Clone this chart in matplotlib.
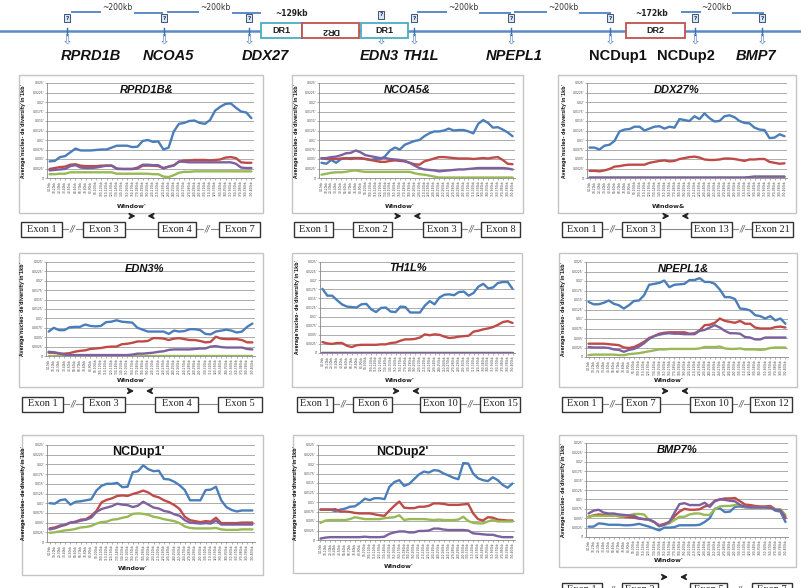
import numpy as np
import matplotlib.pyplot as plt
from matplotlib.patches import Rectangle

W, H = 801, 588

BLUE = '#4a7ebb'
RED = '#be4b48'
PURPLE = '#7d60a0'
GREEN = '#98b954'
MAPBLUE = '#5b8ac6'

# values were read in grid steps; one grid step = 0.0025
STEP = 0.0025

# ---- gene map ----
genes = ['RPRD1B', 'NCOA5', 'DDX27', 'EDN3', 'TH1L', 'NPEPL1', 'NCDup1', 'NCDup2', 'BMP7']
gene_x = [67, 164, 249, 381, 414, 511, 610, 695, 762]
label_x = [91, 168, 265, 379, 421, 514, 618, 686, 756]
gene_italic = [True, True, True, True, True, True, False, False, True]

# ---- nucleotide diversity per window (grid units) ----
rprd1b_blue = [1.75, 1.8, 2.2, 2.3, 2.7, 3.1, 2.9, 2.9, 2.9, 2.95, 3.0, 3.0, 3.2, 3.4, 3.4, 3.4, 3.25, 3.3, 3.9, 4.0,
               3.8, 3.85, 3.0, 3.2, 4.9, 5.7, 5.8, 6.0, 6.05, 5.8, 5.7, 6.1, 7.1, 7.5, 7.8, 7.85, 7.4, 7.0, 6.9, 6.3]
rprd1b_red = [0.95, 1.05, 1.15, 1.2, 1.4, 1.45, 1.3, 1.25, 1.25, 1.25, 1.3, 1.3, 1.3, 1.0, 0.95, 0.95, 0.95, 1.0, 1.3, 1.3,
              1.3, 1.25, 1.05, 1.2, 1.35, 1.7, 1.85, 1.85, 1.9, 1.9, 1.9, 1.85, 1.9, 1.95, 2.15, 2.2, 2.1, 1.65, 1.6, 1.6]
rprd1b_purple = [0.8, 0.85, 0.9, 0.95, 1.25, 1.35, 1.1, 1.05, 1.05, 1.1, 1.2, 1.3, 1.3, 0.95, 0.95, 0.95, 0.95, 1.1, 1.4, 1.4,
                 1.35, 1.35, 1.0, 1.2, 1.3, 1.75, 1.7, 1.65, 1.65, 1.65, 1.65, 1.65, 1.65, 1.65, 1.65, 1.65, 1.5, 1.1, 1.05, 1.05]
rprd1b_green = [0.4, 0.4, 0.45, 0.45, 0.6, 0.6, 0.6, 0.6, 0.6, 0.6, 0.6, 0.6, 0.6, 0.45, 0.45, 0.45, 0.45, 0.45, 0.45, 0.45,
                0.4, 0.4, 0.15, 0.1, 0.3, 0.55, 0.65, 0.65, 0.7, 0.7, 0.7, 0.7, 0.7, 0.7, 0.7, 0.7, 0.7, 0.7, 0.7, 0.7]

ncoa5_blue = [1.6, 1.5, 1.9, 1.6, 2.0, 2.05, 2.1, 2.1, 2.05, 2.0, 1.9, 2.0, 1.95, 2.3, 2.9, 3.2, 3.0, 3.5, 3.7, 3.9,
              4.0, 4.4, 4.7, 4.9, 4.9, 5.0, 5.2, 5.0, 5.05, 5.05, 4.9, 4.7, 5.7, 6.1, 5.8, 5.3, 5.35, 5.1, 4.8, 4.4]
ncoa5_red = [2.1, 2.0, 2.0, 2.0, 2.05, 2.1, 2.0, 2.1, 2.1, 2.0, 1.9, 1.8, 1.7, 1.7, 1.8, 1.85, 1.8, 1.75, 1.6, 1.45,
             1.4, 1.75, 1.9, 2.05, 2.2, 2.2, 2.15, 2.1, 2.05, 2.05, 2.05, 2.0, 2.05, 2.1, 2.05, 2.15, 2.2, 1.9, 1.5, 1.45]
ncoa5_purple = [2.05, 2.1, 2.2, 2.25, 2.4, 2.6, 2.65, 2.9, 2.7, 2.4, 2.3, 2.2, 2.1, 2.1, 2.0, 1.95, 1.9, 1.8, 1.6, 1.3,
                1.05, 0.9, 0.85, 0.8, 0.7, 0.75, 0.8, 0.85, 0.9, 0.9, 0.95, 1.0, 1.05, 1.05, 1.05, 1.05, 1.05, 1.05, 1.0, 0.9]
ncoa5_green = [0.35, 0.45, 0.55, 0.6, 0.6, 0.65, 0.75, 0.8, 0.7, 0.65, 0.65, 0.65, 0.65, 0.65, 0.65, 0.65, 0.65, 0.65, 0.65, 0.5,
               0.4, 0.35, 0.25, 0.15, 0.05, 0.05, 0.05, 0.05, 0.05, 0.05, 0.05, 0.05, 0.05, 0.05, 0.05, 0.05, 0.05, 0.05, 0.05, 0.05]

ddx27_blue = [3.2, 3.2, 3.0, 3.4, 3.5, 3.9, 4.9, 5.1, 5.15, 5.4, 5.4, 5.0, 5.2, 5.4, 5.45, 5.2, 5.4, 5.3, 6.2, 6.1,
              6.0, 6.5, 6.2, 6.8, 6.3, 5.95, 6.0, 6.5, 6.6, 6.4, 6.0, 5.8, 5.75, 5.3, 5.1, 5.05, 4.2, 4.25, 4.6, 4.4]
ddx27_red = [0.75, 0.75, 0.7, 0.8, 0.95, 1.2, 1.25, 1.35, 1.4, 1.4, 1.4, 1.4, 1.6, 1.7, 1.8, 1.85, 1.75, 1.8, 2.0, 2.1,
             2.2, 2.25, 2.15, 1.95, 1.9, 1.9, 1.95, 2.05, 2.05, 2.0, 1.9, 1.8, 1.95, 1.95, 2.0, 2.0, 1.7, 1.6, 1.5, 1.55]
ddx27_purple = [0.05, 0.05, 0.05, 0.05, 0.05, 0.05, 0.05, 0.05, 0.05, 0.05, 0.05, 0.05, 0.05, 0.05, 0.05, 0.05, 0.05, 0.05, 0.05, 0.05,
                0.05, 0.05, 0.05, 0.05, 0.05, 0.05, 0.05, 0.05, 0.05, 0.05, 0.05, 0.05, 0.1, 0.15, 0.15, 0.15, 0.15, 0.15, 0.15, 0.15]
ddx27_green = [0.02, 0.02, 0.02, 0.02, 0.02, 0.02, 0.02, 0.02, 0.02, 0.02, 0.02, 0.02, 0.02, 0.02, 0.02, 0.02, 0.02, 0.02, 0.02, 0.02,
               0.02, 0.02, 0.02, 0.02, 0.02, 0.02, 0.02, 0.02, 0.02, 0.02, 0.02, 0.02, 0.08, 0.12, 0.12, 0.12, 0.12, 0.12, 0.12, 0.12]

edn3_blue = [2.6, 3.0, 2.75, 2.75, 3.05, 3.1, 3.1, 3.35, 3.2, 3.15, 3.2, 3.6, 3.65, 3.8, 3.65, 3.6, 3.55, 3.0, 2.8, 2.6,
             2.6, 2.6, 2.6, 2.35, 2.7, 2.6, 2.65, 2.85, 2.85, 2.75, 2.35, 2.3, 2.6, 2.7, 2.8, 2.7, 2.5, 2.6, 3.1, 3.45]
edn3_red = [0.35, 0.35, 0.25, 0.25, 0.3, 0.45, 0.55, 0.6, 0.75, 0.8, 0.85, 0.95, 1.0, 1.0, 1.25, 1.3, 1.4, 1.55, 1.55, 1.6,
            1.9, 1.9, 1.85, 1.7, 1.85, 1.9, 1.8, 1.7, 1.7, 1.6, 1.45, 1.5, 2.05, 1.85, 1.8, 1.8, 1.8, 1.7, 1.45, 1.45]
edn3_purple = [0.45, 0.4, 0.3, 0.15, 0.1, 0.1, 0.1, 0.1, 0.1, 0.1, 0.1, 0.1, 0.1, 0.1, 0.1, 0.1, 0.15, 0.25, 0.25, 0.3,
               0.35, 0.45, 0.5, 0.65, 0.7, 0.7, 0.7, 0.7, 0.75, 0.8, 0.8, 1.0, 1.05, 0.95, 0.9, 0.9, 0.9, 0.9, 0.75, 0.7]
edn3_green = [0.03, 0.03, 0.03, 0.03, 0.03, 0.03, 0.03, 0.03, 0.03, 0.03, 0.03, 0.03, 0.03, 0.03, 0.03, 0.03, 0.03, 0.03, 0.03, 0.03,
              0.03, 0.03, 0.03, 0.03, 0.03, 0.03, 0.03, 0.03, 0.03, 0.03, 0.03, 0.03, 0.03, 0.03, 0.03, 0.03, 0.03, 0.03, 0.03, 0.03]

th1l_blue = [7.05, 6.3, 6.3, 5.8, 5.35, 5.1, 5.05, 5.0, 5.35, 5.4, 4.8, 4.5, 4.95, 5.0, 4.55, 4.5, 5.1, 5.05, 4.45, 4.45,
             4.45, 5.2, 5.7, 5.35, 6.1, 6.4, 6.45, 6.35, 6.7, 6.75, 6.3, 6.6, 7.3, 7.6, 7.1, 7.2, 7.7, 7.8, 7.8, 7.05]
th1l_red = [1.2, 1.05, 1.0, 1.1, 1.1, 0.8, 0.65, 0.85, 0.9, 0.9, 0.9, 0.9, 0.95, 0.95, 1.1, 1.15, 1.35, 1.5, 1.5, 1.55,
            1.7, 2.05, 1.95, 2.05, 2.0, 1.8, 1.65, 1.7, 1.8, 1.85, 1.9, 2.35, 2.45, 2.6, 2.7, 2.85, 3.1, 3.4, 3.5, 3.3]
th1l_purple = [0, 0, 0, 0, 0, 0, 0, 0, 0, 0, 0, 0, 0, 0, 0, 0, 0, 0, 0, 0,
               0, 0, 0, 0, 0, 0, 0, 0, 0, 0, 0, 0, 0, 0, 0, 0, 0, 0, 0, 0]
th1l_green = [0, 0, 0, 0, 0, 0, 0, 0, 0, 0, 0, 0, 0, 0, 0, 0, 0, 0, 0, 0,
              0, 0, 0, 0, 0, 0, 0, 0, 0, 0, 0, 0, 0, 0, 0, 0, 0, 0, 0, 0]

npepl1_blue = [5.8, 5.55, 5.55, 5.7, 5.95, 5.6, 5.45, 5.1, 5.45, 5.9, 5.95, 6.5, 7.6, 7.7, 7.8, 8.05, 7.35, 7.6, 7.65, 7.7,
               8.1, 8.1, 8.3, 7.9, 7.9, 7.7, 7.1, 6.3, 6.3, 6.1, 5.1, 5.05, 4.9, 4.4, 4.3, 4.05, 4.3, 3.85, 4.05, 3.5]
npepl1_red = [1.4, 1.4, 1.4, 1.4, 1.35, 1.3, 1.25, 1.0, 0.95, 1.05, 1.3, 1.6, 2.0, 2.2, 2.45, 2.55, 2.6, 2.6, 2.6, 2.6,
              2.45, 2.5, 2.8, 3.35, 3.4, 3.6, 4.05, 3.8, 3.7, 3.6, 3.8, 3.5, 3.5, 3.1, 3.0, 3.0, 3.0, 3.15, 3.2, 3.1]
npepl1_purple = [1.05, 1.0, 1.0, 1.0, 0.95, 0.8, 0.75, 0.55, 0.75, 0.85, 1.1, 1.45, 1.9, 2.2, 2.35, 2.45, 2.5, 2.45, 2.45, 2.4,
                 2.4, 2.4, 2.75, 2.85, 3.1, 3.35, 3.1, 2.75, 2.5, 2.5, 2.45, 2.1, 2.05, 1.85, 1.85, 2.05, 2.05, 2.05, 2.05, 2.05]
npepl1_green = [0.2, 0.25, 0.25, 0.25, 0.25, 0.25, 0.2, 0.2, 0.3, 0.35, 0.4, 0.5, 0.6, 0.7, 0.8, 0.8, 0.85, 0.85, 0.85, 0.85,
                0.85, 0.85, 0.9, 1.05, 1.05, 1.05, 1.1, 0.9, 0.85, 0.85, 0.9, 0.8, 0.8, 0.8, 0.75, 0.8, 0.95, 1.0, 1.0, 1.0]

ncdup1_blue = [4.0, 3.95, 4.3, 4.4, 3.85, 4.15, 4.2, 4.3, 4.4, 5.3, 5.8, 6.0, 6.0, 6.1, 5.65, 5.7, 7.2, 7.3, 7.9, 7.5,
               7.3, 7.35, 6.5, 6.45, 6.2, 5.85, 5.35, 4.3, 4.3, 4.3, 5.35, 5.4, 5.7, 4.3, 3.6, 3.3, 3.15, 3.25, 3.25, 3.25]
ncdup1_red = [1.4, 1.5, 1.7, 1.75, 2.0, 2.1, 2.3, 2.35, 2.7, 3.2, 4.1, 4.35, 4.5, 4.75, 4.8, 4.75, 4.95, 5.1, 5.3, 5.1,
              4.75, 4.6, 4.3, 4.1, 3.8, 3.4, 2.6, 2.25, 2.15, 2.05, 2.15, 2.1, 2.5, 1.95, 1.95, 1.95, 1.95, 2.0, 2.0, 2.0]
ncdup1_purple = [1.3, 1.4, 1.6, 1.8, 2.0, 2.05, 2.2, 2.3, 2.5, 3.1, 3.4, 3.55, 3.7, 3.95, 3.85, 3.8, 3.6, 3.75, 4.15, 3.85,
                 3.55, 3.45, 3.2, 3.1, 2.85, 2.7, 2.25, 2.0, 1.95, 1.9, 1.95, 1.9, 2.2, 1.8, 1.8, 1.8, 1.8, 1.8, 1.8, 1.8]
ncdup1_green = [0.95, 1.0, 1.1, 1.2, 1.25, 1.35, 1.5, 1.55, 1.65, 1.9, 2.05, 2.1, 2.3, 2.35, 2.5, 2.6, 2.9, 2.95, 2.9, 2.8,
                2.6, 2.5, 2.35, 2.25, 2.15, 1.95, 1.6, 1.45, 1.4, 1.4, 1.4, 1.4, 1.45, 1.3, 1.25, 1.25, 1.25, 1.3, 1.3, 1.3]

ncdup2_blue = [3.2, 3.2, 3.2, 3.05, 3.2, 3.3, 3.5, 3.55, 3.9, 4.35, 4.2, 4.4, 4.4, 4.3, 5.6, 6.1, 6.3, 5.7, 5.9, 6.4,
               6.9, 7.2, 7.1, 7.35, 7.3, 7.0, 6.8, 6.55, 6.4, 8.1, 8.05, 7.0, 6.5, 6.3, 6.2, 6.6, 6.3, 5.8, 5.5, 5.95]
ncdup2_red = [3.2, 3.2, 3.2, 3.25, 3.0, 3.0, 2.95, 2.85, 2.8, 2.8, 2.8, 2.7, 2.6, 2.55, 3.1, 3.6, 4.05, 3.4, 3.35, 3.35,
              3.5, 3.5, 3.6, 3.85, 3.85, 3.8, 3.7, 3.7, 3.7, 3.75, 3.8, 2.8, 2.2, 2.05, 2.4, 2.35, 2.15, 2.1, 2.05, 2.05]
ncdup2_purple = [0.15, 0.25, 0.3, 0.3, 0.3, 0.3, 0.3, 0.3, 0.3, 0.35, 0.3, 0.3, 0.3, 0.35, 0.65, 0.8, 0.9, 0.9, 0.8, 0.8,
                 0.95, 0.95, 1.0, 1.2, 1.2, 1.1, 1.05, 1.05, 1.05, 1.05, 1.0, 0.7, 0.65, 0.6, 0.55, 0.55, 0.4, 0.3, 0.3, 0.3]
ncdup2_green = [1.8, 2.05, 2.1, 2.1, 2.1, 2.1, 2.2, 2.4, 2.3, 2.2, 2.2, 2.2, 2.2, 2.3, 2.35, 2.4, 2.6, 2.1, 2.2, 2.2,
                2.2, 2.2, 2.15, 2.1, 2.15, 2.1, 2.1, 2.1, 2.15, 2.45, 2.0, 1.8, 1.75, 1.75, 1.95, 2.1, 1.95, 1.95, 1.95, 1.95]

bmp7_blue = [1.1, 1.1, 1.45, 1.4, 1.3, 1.3, 1.3, 1.25, 1.25, 1.3, 1.4, 1.25, 1.1, 0.9, 0.7, 1.0, 1.0, 1.05, 1.25, 1.25,
             1.25, 1.25, 1.3, 1.6, 2.0, 3.0, 3.05, 2.65, 2.7, 3.2, 3.25, 3.15, 3.15, 3.15, 3.15, 3.15, 3.15, 2.8, 2.7, 1.6]
bmp7_red = [2.15, 2.3, 2.4, 2.35, 2.3, 2.3, 2.2, 2.15, 2.1, 2.05, 1.95, 1.9, 1.85, 1.6, 1.25, 1.4, 1.6, 2.2, 2.7, 3.0,
            2.9, 2.9, 2.95, 3.25, 3.35, 3.85, 4.0, 4.1, 4.1, 4.15, 3.8, 3.45, 3.4, 3.3, 3.25, 3.25, 3.3, 2.95, 2.9, 2.0]
bmp7_purple = [2.5, 2.8, 2.9, 2.6, 2.5, 2.5, 2.4, 2.35, 2.3, 2.25, 2.0, 1.9, 1.85, 1.6, 1.15, 1.3, 1.6, 2.55, 3.5, 3.6,
               3.4, 3.4, 3.4, 3.65, 3.2, 3.8, 4.0, 3.95, 3.85, 3.8, 3.4, 3.25, 3.15, 3.15, 3.15, 3.15, 3.1, 2.9, 2.85, 2.1]
bmp7_green = [2.15, 2.25, 2.25, 2.25, 2.25, 2.25, 2.25, 2.2, 2.3, 2.45, 2.45, 2.4, 1.8, 1.6, 1.15, 1.3, 1.45, 1.8, 2.15, 2.15,
              2.4, 2.5, 2.5, 2.35, 2.35, 2.95, 3.25, 3.3, 3.3, 3.4, 3.4, 3.2, 3.15, 3.15, 3.15, 3.15, 3.1, 2.95, 2.95, 2.35]

windows = [f"{10 * i}-{10 * i + 10}kb" for i in range(40)]
ytick_vals = [i * STEP for i in range(11)]

# exon diagrams (labels, and which connectors have a // break)
rprd1b_exons = ['Exon 1', 'Exon 3', 'Exon 4', 'Exon 7']
ncoa5_exons = ['Exon 1', 'Exon 2', 'Exon 3', 'Exon 8']
ddx27_exons = ['Exon 1', 'Exon 3', 'Exon 13', 'Exon 21']
edn3_exons = ['Exon 1', 'Exon 3', 'Exon 4', 'Exon 5']
th1l_exons = ['Exon 1', 'Exon 6', 'Exon 10', 'Exon 15']
npepl1_exons = ['Exon 1', 'Exon 7', 'Exon 10', 'Exon 12']
bmp7_exons = ['Exon 1', 'Exon 3', 'Exon 5', 'Exon 7']

YLAB = "Average'nucleo- de'diversity'in'1kb'"

fig = plt.figure(figsize=(W / 100, H / 100), dpi=100)
bg = fig.add_axes([0, 0, 1, 1], zorder=0)
bg.set_xlim(0, W)
bg.set_ylim(H, 0)
bg.axis('off')


def px_axes(x0, y0, x1, y1):
    return fig.add_axes([x0 / W, 1 - y1 / H, (x1 - x0) / W, (y1 - y0) / H], zorder=2)


# ---------------- top gene map ----------------
bg.plot([0, W], [31, 31], color=MAPBLUE, lw=1.8, zorder=1)
for gx in gene_x:
    bg.plot([gx, gx], [27.5, 34.5], color='#3c6eab', lw=1, zorder=2)
    my = 15 if gx == 381 else 18
    bg.text(gx, my, '?', fontsize=4.2, ha='center', va='center', color='#1f3b63', fontweight='bold',
            bbox=dict(boxstyle='square,pad=0.2', fc='#dbe5f1', ec='#1f3b63', lw=0.6))
    bg.text(gx, 41.5, '\u21e9', fontsize=9.5, ha='center', va='center', color=MAPBLUE, family='DejaVu Sans')
for name, lx, it in zip(genes, label_x, gene_italic):
    bg.text(lx, 56, name, fontsize=10.5, ha='center', va='center', family='Liberation Sans',
            fontweight='bold', style='italic' if it else 'normal', color='#111111')

dr_boxes = [(261, 302, 'DR1', '#4bacc6', 0), (302, 359, 'DR2', '#c0504d', 180),
            (361, 408, 'DR1', '#4bacc6', 0), (626, 685, 'DR2', '#c0504d', 0)]
for a, b, lab, col, rot in dr_boxes:
    bg.add_patch(Rectangle((a, 23), b - a, 15, fc='white', ec=col, lw=1.3, zorder=3))
    bg.text((a + b) / 2, 30.5, lab, fontsize=6.5, ha='center', va='center', rotation=rot,
            fontweight='bold', color='#222222', zorder=4, family='Liberation Sans')
bg.text(292, 14, '~129kb', fontsize=5.5, ha='center', va='center', fontweight='bold', color='#222222')
bg.text(652, 14, '~172kb', fontsize=5.5, ha='center', va='center', fontweight='bold', color='#222222')

spans = [(72, 100, 135, 162), (168, 198, 233, 260), (418, 446, 480, 510), (515, 546, 580, 610), (682, 700, 733, 763)]
for a, b, c, d in spans:
    bg.plot([a, b], [12, 12], color=MAPBLUE, lw=1.4)
    bg.plot([c, d], [13, 13], color=MAPBLUE, lw=1.4)
    bg.text((b + c) / 2, 8, '~200kb', fontsize=5.5, ha='center', va='center', color='#333333')


# ---------------- chart panels ----------------
def draw_panel(border, plot, title, series, tx, italic=True, xlabel="Window'"):
    x0, y0, x1, y1 = border
    bg.add_patch(Rectangle((x0, y0), x1 - x0, y1 - y0, fill=False, ec='#c4c4c4', lw=1))
    ax = px_axes(*plot)
    ax.set_facecolor('none')
    n = len(series[0][0])
    for vals, col in series:
        ax.plot(np.arange(len(vals)), np.array(vals) * STEP, color=col, lw=1.7,
                solid_joinstyle='round', solid_capstyle='round')
    ax.set_xlim(-0.5, n - 0.5)
    ax.set_ylim(0, 10 * STEP)
    ax.set_yticks(ytick_vals)
    ax.set_yticklabels([f"{v:g}'" for v in ytick_vals], fontsize=2.2, color='#444444')
    ax.set_xticks(np.arange(n))
    ax.set_xticklabels(windows[:n], rotation=90, fontsize=2.1, color='#444444')
    ax.tick_params(length=1.2, width=0.4, pad=0.8, colors='#777777', labelcolor='#444444')
    ax.grid(axis='y', color='#8c8c8c', lw=0.5)
    ax.set_axisbelow(True)
    for s in ['top', 'right']:
        ax.spines[s].set_visible(False)
    for s in ['left', 'bottom']:
        ax.spines[s].set_color('#868686')
        ax.spines[s].set_linewidth(0.6)
    ax.set_ylabel(YLAB, fontsize=3.3, fontweight='bold', color='#222222')
    ax.yaxis.set_label_coords(-0.1, 0.5)
    ax.text(tx, 0.93, title, transform=ax.transAxes, ha='center', va='center',
            fontsize=8 if italic else 9, fontweight='bold', style='italic' if italic else 'normal',
            family='Liberation Sans', color='#111111')
    px0, px1 = plot[0], plot[2]
    bg.text(px0 + 0.41 * (px1 - px0), y1 - 7, xlabel, fontsize=4.5, fontweight='bold',
            ha='center', va='center', color='#222222')
    return ax


def draw_exons(boxes, labels, breaks, yc, h=15):
    for i in range(3):
        xa, xb = boxes[i][1], boxes[i + 1][0]
        bg.plot([xa, xb], [yc, yc], color='#8a8a8a', lw=0.8, zorder=1)
        if breaks[i]:
            bg.text((xa + xb) / 2, yc, '//', fontsize=6, ha='center', va='center', color='#555555',
                    style='italic', zorder=2, bbox=dict(boxstyle='square,pad=0.05', fc='white', ec='none'))
    for (a, b), lab in zip(boxes, labels):
        bg.add_patch(Rectangle((a, yc - h / 2), b - a, h, fc='white', ec='#333333', lw=1, zorder=3))
        bg.text((a + b) / 2, yc, lab, fontsize=7.5, ha='center', va='center',
                family='Liberation Serif', color='#222222', zorder=4)
    xm = (boxes[1][1] + boxes[2][0]) / 2
    ya = yc - 13
    bg.annotate('', xy=(xm - 3, ya), xytext=(xm - 14, ya),
                arrowprops=dict(arrowstyle='->', lw=1.3, color='#222222', mutation_scale=8))
    bg.annotate('', xy=(xm + 3, ya), xytext=(xm + 14, ya),
                arrowprops=dict(arrowstyle='->', lw=1.3, color='#222222', mutation_scale=8))


def four(b, r, p, g):
    return [(b, BLUE), (r, RED), (g, GREEN), (p, PURPLE)]


# row 1
draw_panel((19, 75, 263, 213), (47, 83, 254, 178), 'RPRD1B&',
           four(rprd1b_blue, rprd1b_red, rprd1b_purple, rprd1b_green), 0.48)
draw_exons([(21, 62), (83, 125), (158, 196), (219, 260)], rprd1b_exons, [True, False, True], 229)

draw_panel((292, 75, 523, 213), (319, 83, 515, 178), 'NCOA5&',
           four(ncoa5_blue, ncoa5_red, ncoa5_purple, ncoa5_green), 0.45)
draw_exons([(294, 333), (353, 392), (423, 461), (481, 520)], ncoa5_exons, [False, False, True], 229)

draw_panel((558, 75, 796, 213), (587, 83, 787, 178), 'DDX27%',
           four(ddx27_blue, ddx27_red, ddx27_purple, ddx27_green), 0.45, xlabel='Window&')
draw_exons([(562, 602), (622, 660), (691, 732), (752, 793)], ddx27_exons, [True, False, True], 229)

# row 2
draw_panel((19, 253, 263, 387), (46, 262, 255, 356), 'EDN3%',
           four(edn3_blue, edn3_red, edn3_purple, edn3_green), 0.47)
draw_exons([(22, 63), (83, 125), (155, 198), (218, 262)], edn3_exons, [True, False, False], 404)

draw_panel((292, 253, 522, 387), (320, 262, 515, 353), 'TH1L%',
           four(th1l_blue, th1l_red, th1l_purple, th1l_green), 0.45)
draw_exons([(297, 333), (353, 392), (420, 460), (480, 520)], th1l_exons, [True, False, True], 404)

draw_panel((559, 253, 797, 387), (586, 262, 788, 357), 'NPEPL1&',
           four(npepl1_blue, npepl1_red, npepl1_purple, npepl1_green), 0.48)
draw_exons([(562, 602), (622, 660), (690, 732), (750, 792)], npepl1_exons, [True, False, True], 404)

# row 3
draw_panel((22, 435, 263, 575), (47, 445, 255, 542), "NCDup1'",
           four(ncdup1_blue, ncdup1_red, ncdup1_purple, ncdup1_green), 0.44, italic=False)
draw_panel((293, 435, 523, 573), (318, 445, 515, 540), "NCDup2'",
           four(ncdup2_blue, ncdup2_red, ncdup2_purple, ncdup2_green), 0.43, italic=False)
draw_panel((559, 435, 796, 567), (586, 443, 788, 537), 'BMP7%',
           four(bmp7_blue, bmp7_red, bmp7_purple, bmp7_green), 0.45)
draw_exons([(562, 602), (622, 658), (690, 727), (752, 792)], bmp7_exons, [True, False, True], 590)

fig.savefig('out.png', dpi=100)
